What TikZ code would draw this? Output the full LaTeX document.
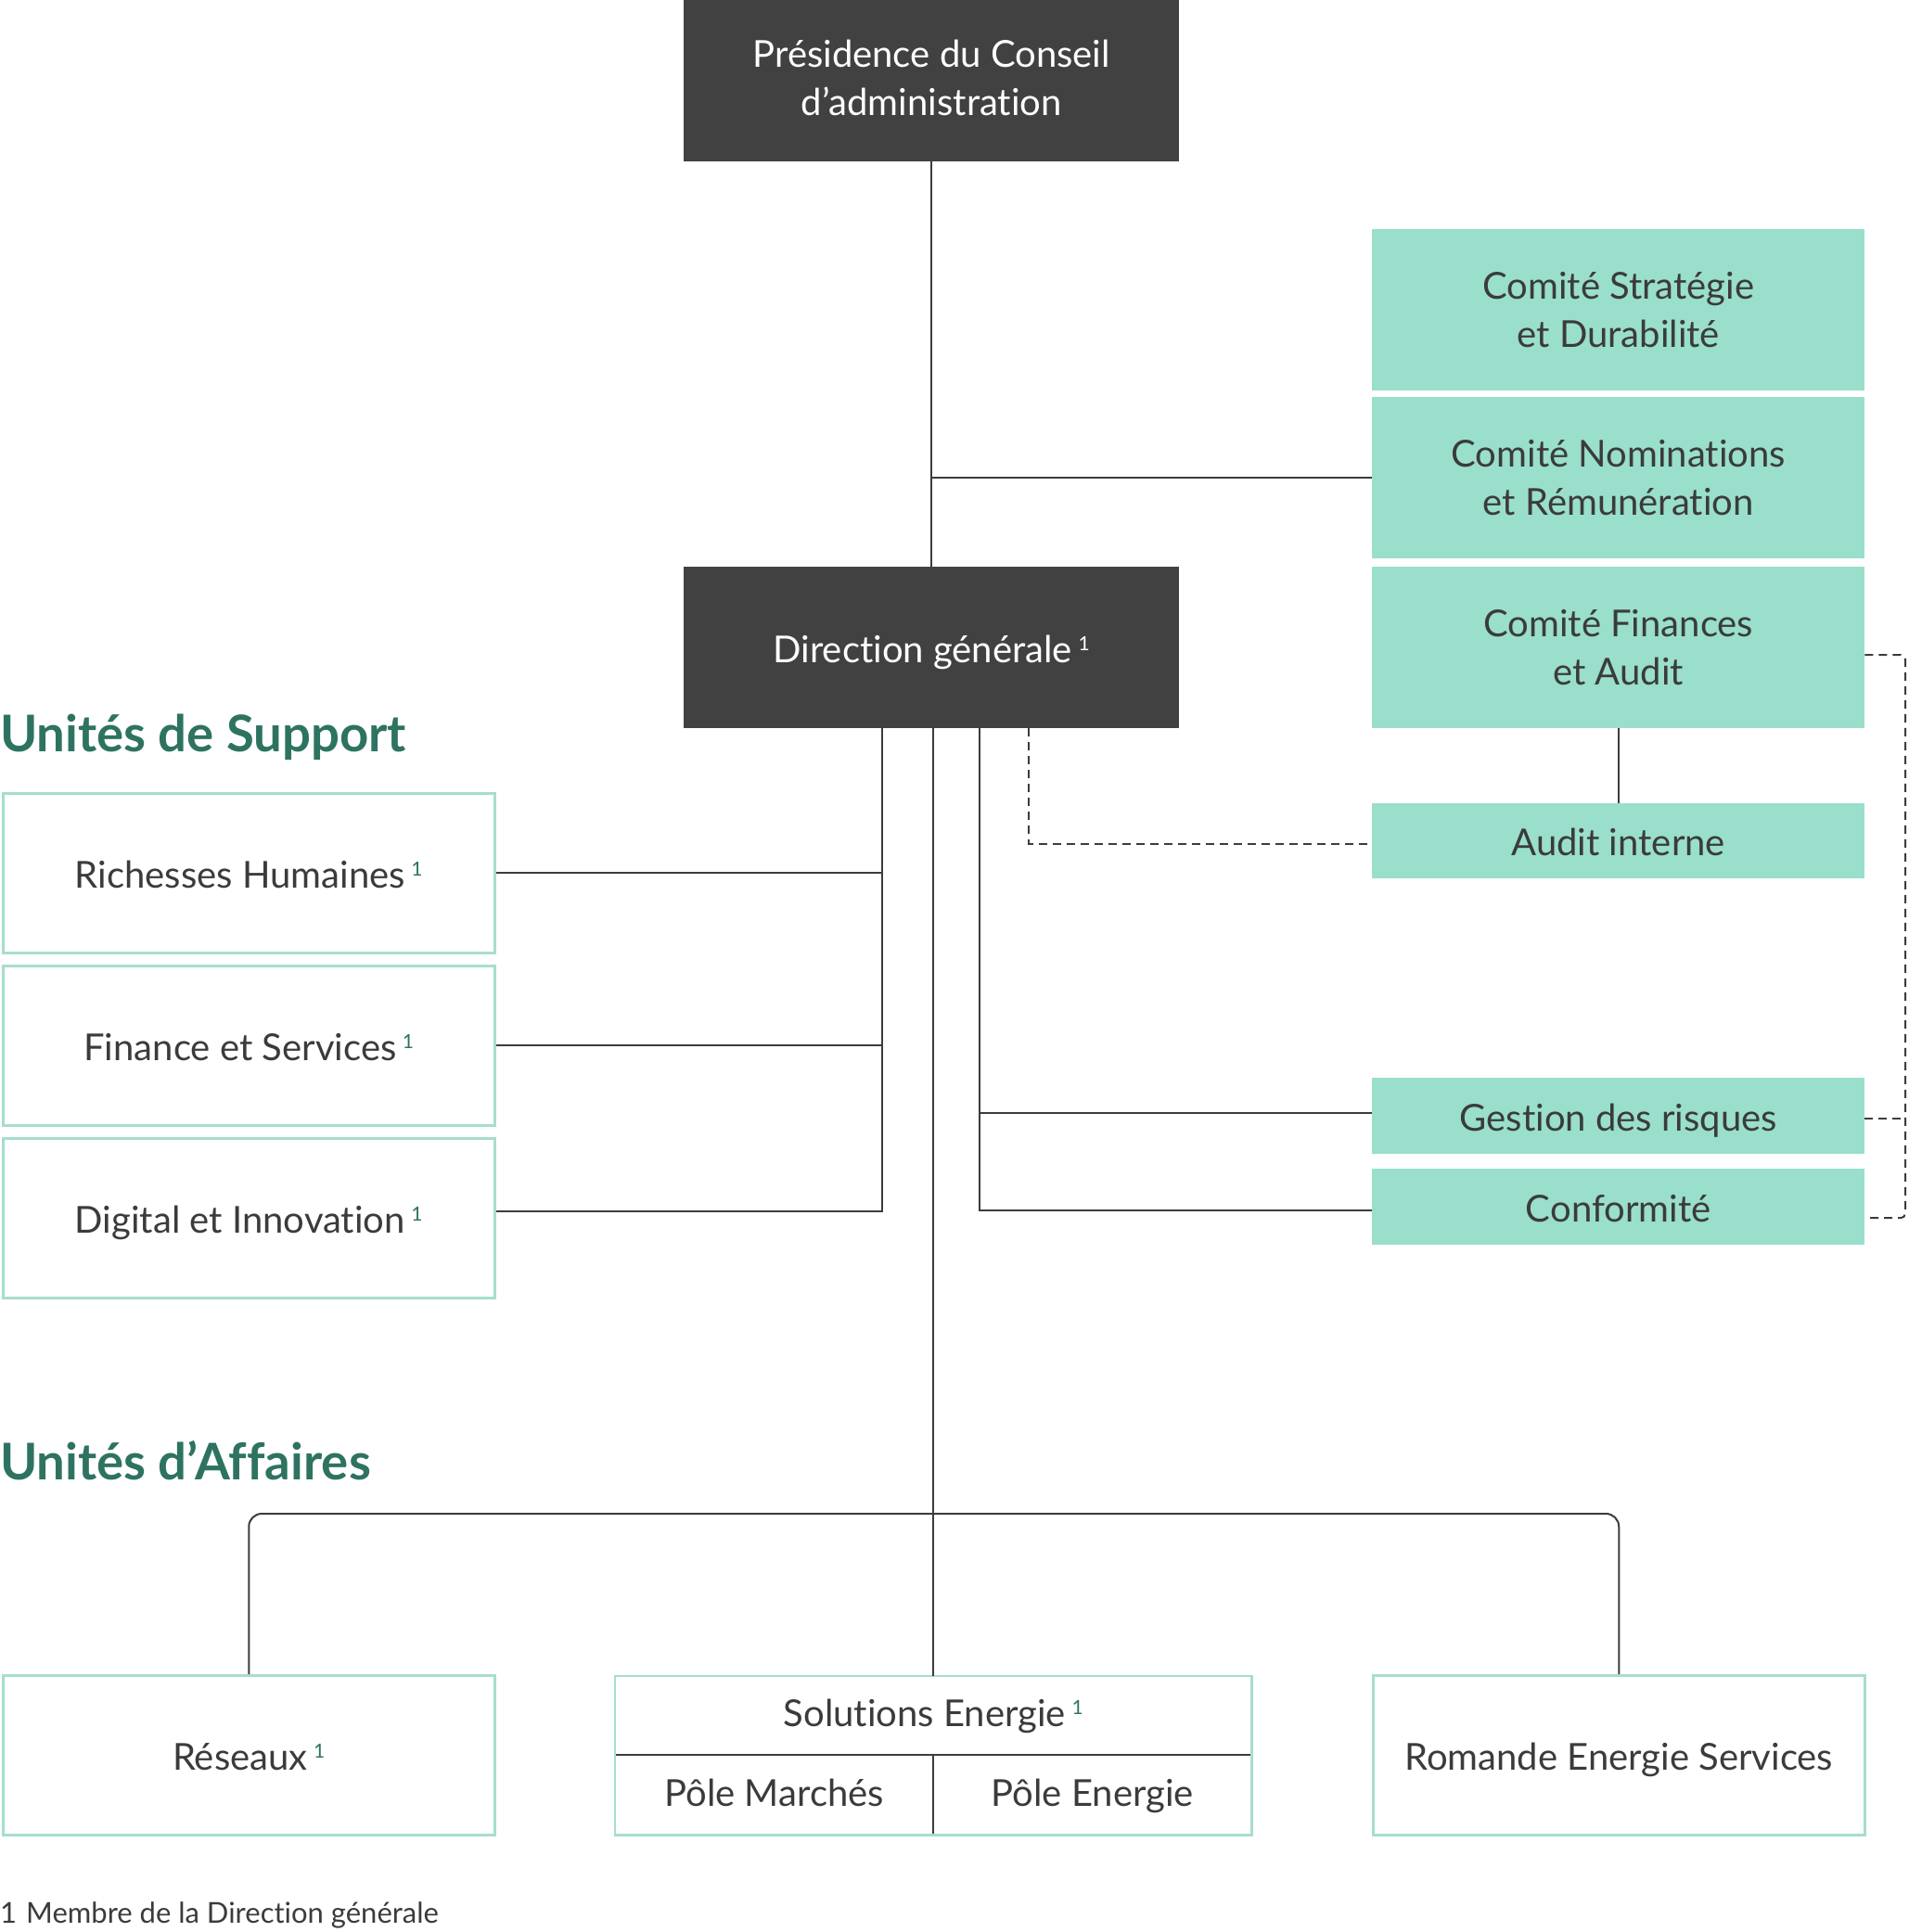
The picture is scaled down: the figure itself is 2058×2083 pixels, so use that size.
\documentclass[tikz,border=0pt]{standalone}
\usepackage{fontspec}
\setmainfont{Lato}[Ligatures=NoCommon]
\usetikzlibrary{calc}
\definecolor{darkbox}{HTML}{414141}
\definecolor{tealfill}{HTML}{99DFCB}
\definecolor{tealline}{HTML}{A6DDCF}
\definecolor{txt}{HTML}{3B3B3B}
\definecolor{headgreen}{HTML}{2E7361}
\definecolor{conn}{HTML}{3C3C3C}
\newcommand{\supmark}[1][headgreen]{\,{\fontsize{21}{21}\selectfont\raisebox{13pt}{\textcolor{#1}{1}}}}
\newcommand{\liftline}[2]{\raisebox{#1}[\height][\depth]{#2}}
\tikzset{
  boxbase/.style={rectangle, anchor=north west, inner sep=0pt, align=center,
    font=\fontsize{40}{52}\selectfont},
  oneline/.style={text height=37pt, text depth=5pt},
  onelinesmall/.style={text height=32pt, text depth=8pt},
  darknode/.style={boxbase, fill=darkbox, text=white},
  tealnode/.style={boxbase, fill=tealfill, text=txt},
  whitenode/.style={boxbase, draw=tealline, line width=2.5pt, fill=white, text=txt},
  link/.style={draw=conn, line width=2pt},
  dashlink/.style={draw=conn, line width=2pt, dash pattern=on 9pt off 6pt},
  heading/.style={anchor=base west, inner sep=0pt, text=headgreen,
    font=\fontsize{54.5}{60}\selectfont\bfseries},
}
\begin{document}
\begin{tikzpicture}[x=1pt,y=-1pt]
\useasboundingbox (0,0) rectangle (2058,2083);

% top boxes
\node[darknode, minimum width=534, minimum height=174] (pres) at (737,0) {\liftline{3pt}{Présidence du Conseil}\\\liftline{3pt}{d’administration}};
\node[darknode, oneline, minimum width=534, minimum height=174] (dg) at (737,611) {Direction générale\supmark[white]};

% committees
\node[tealnode, minimum width=531, minimum height=174] (cs) at (1479,247) {Comité Stratégie\\et Durabilité};
\node[tealnode, minimum width=531, minimum height=174] (cn) at (1479,428) {Comité Nominations\\et Rémunération};
\node[tealnode, minimum width=531, minimum height=174] (cf) at (1479,611) {Comité Finances\\et Audit};
\node[tealnode, oneline, minimum width=531, minimum height=81] (ai) at (1479,866) {Audit interne};
\node[tealnode, oneline, minimum width=531, minimum height=82] (gr) at (1479,1162) {Gestion des risques};
\node[tealnode, oneline, minimum width=531, minimum height=82] (conf) at (1479,1260) {Conformité};

% support units
\node[heading] (hs) at (0,810) {Unités de Support};
\node[whitenode, oneline, minimum width=530, minimum height=172] (rh) at (2,854) {Richesses Humaines\supmark};
\node[whitenode, oneline, minimum width=530, minimum height=172] (fs) at (2,1040) {Finance et Services\supmark};
\node[whitenode, oneline, minimum width=530, minimum height=172] (di) at (2,1226) {Digital et Innovation\supmark};

% business units
\node[heading] (ha) at (0,1595) {Unités d’Affaires};
\node[whitenode, oneline, minimum width=530, minimum height=172] (res) at (2,1805) {Réseaux\supmark};
\node[whitenode, oneline, minimum width=530, minimum height=172] (ros) at (1479,1805) {Romande Energie Services};

% Solutions Energie block
\node[boxbase, onelinesmall, minimum width=686, minimum height=85, text=txt] (sol) at (663,1807) {Solutions Energie\supmark};
\node[boxbase, onelinesmall, minimum width=343, minimum height=86, text=txt] (pm) at (663,1892) {Pôle Marchés};
\node[boxbase, onelinesmall, minimum width=343, minimum height=86, text=txt] (pe) at (1006,1892) {Pôle Energie};
\draw[link] (pm.north west) -- (pe.north east);
\draw[link] (pm.north east) -- (pm.south east);
\draw[draw=tealline, line width=2.5pt] (sol.north west) rectangle (pe.south east);

% connectors
\draw[link] (pres.south) -- (dg.north);
\draw[link] (cn.west) -- (cn.west -| pres.south);
\draw[link] (cf.south) -- (ai.north);

\coordinate (lc) at (951,785);
\draw[link] (dg.south -| lc) -- ($(lc |- di.east)+(0,-7)$) -- ($(di.east)+(0,-7)$);
\draw[link] (rh.east) -- (rh.east -| lc);
\draw[link] (fs.east) -- (fs.east -| lc);

\coordinate (rc) at (1056,785);
\draw[link] (dg.south -| rc) -- ($(rc |- conf.west)+(0,4)$) -- ($(conf.west)+(0,4)$);
\draw[link] ($(gr.west)+(0,-3)$) -- ($(gr.west -| rc)+(0,-3)$);

\coordinate (dc) at (1109,785);
\draw[dashlink] (dg.south -| dc) -- ($(dc |- ai.west)+(0,3)$) -- ($(ai.west)+(0,3)$);

\coordinate (bx) at (2054,706);
\draw[dashlink, rounded corners=5pt] ($(cf.east)+(0,8)$) -- (bx) -- ($(bx |- conf.east)+(0,12)$) -- ($(conf.east)+(0,12)$);
\draw[dashlink] ($(gr.east)+(0,3)$) -- ($(bx |- gr.east)+(0,3)$);

\coordinate (bus) at (1005,1632);
\draw[link] (dg.south -| sol.north) -- (sol.north);
\draw[link, rounded corners=14pt] (res.north) -- (res.north |- bus) -- (ros.north |- bus) -- (ros.north);

% footnote
\node[anchor=base west, inner sep=0pt, text=txt, font=\fontsize{31}{34}\selectfont] (fn) at (0,2073) {1\hspace{10pt}Membre de la Direction générale};
\end{tikzpicture}
\end{document}
